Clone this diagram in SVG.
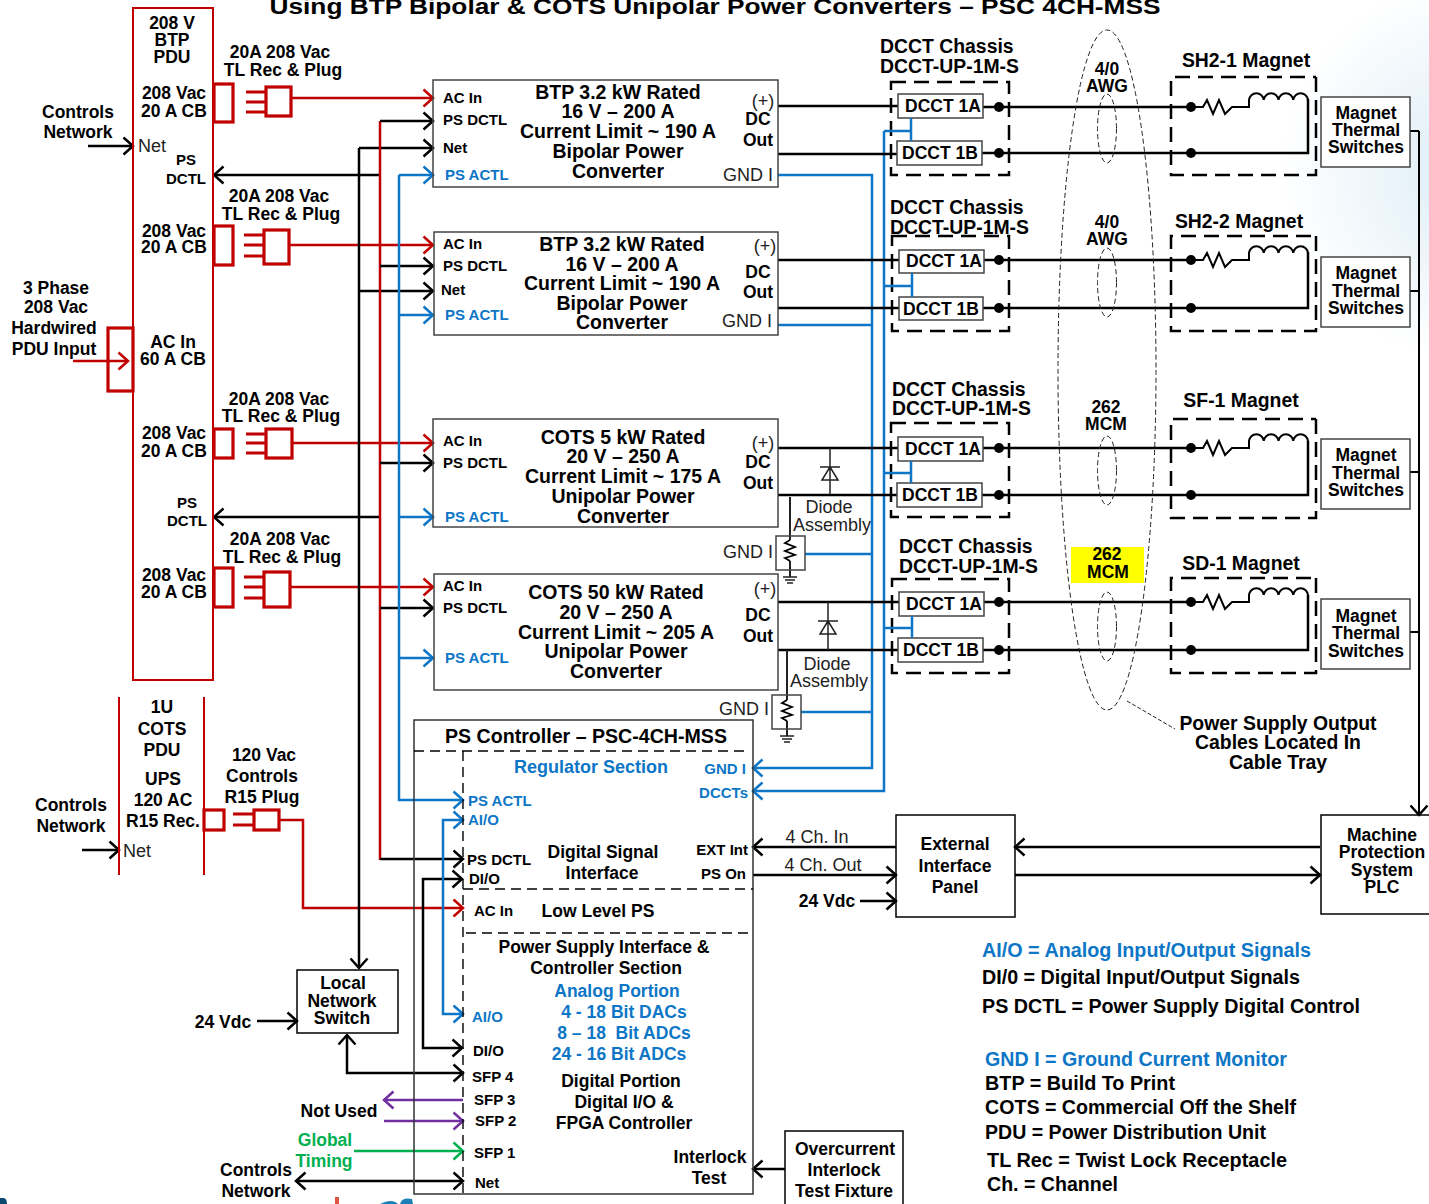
<svg xmlns="http://www.w3.org/2000/svg" width="1429" height="1204" viewBox="0 0 1429 1204">
<style>
text{font-family:"Liberation Sans",Arial,sans-serif;font-weight:700;font-size:17.5px;fill:#000}
.c{text-anchor:middle}.e{text-anchor:end}
.m{font-size:19.5px}.s{font-size:15px}.r{font-weight:400;font-size:18px;fill:#222}
.l{font-size:19.5px}.u{fill:#0d76c6}.g{fill:#00b050}
.h{font-size:19.4px}
.ln,.bx,.rd,.bl,.pu,.gr,.dash,.thin,.rbx{fill:none}
.ln{stroke:#000;stroke-width:2.5}
.rd{stroke:#c00000;stroke-width:2.5}
.rbx{stroke:#c00000;stroke-width:3.2}
.bl{stroke:#0d76c6;stroke-width:2.5}
.pu{stroke:#7030a0;stroke-width:2.5}
.gr{stroke:#00b050;stroke-width:2.5}
.bx{stroke:#444;stroke-width:1.5;fill:#fff}
.nb{stroke:#444;stroke-width:1.5;fill:none}
.dash{stroke:#000;stroke-width:2.5;stroke-dasharray:15 8}
.dt{fill:none;stroke:#000;stroke-width:1.4;stroke-dasharray:10 6}
.thin{stroke:#222;stroke-width:1.5}
.el{fill:none;stroke:#222;stroke-width:1;stroke-dasharray:5 3}
</style>
<defs>
<radialGradient id="bg" gradientUnits="userSpaceOnUse" cx="1470" cy="170" r="190"><stop offset="0" stop-color="#dcecf6"/><stop offset="1" stop-color="#fff"/></radialGradient>
<marker id="ak" markerUnits="userSpaceOnUse" viewBox="-12 -10 14 20" refX="0" refY="0" markerWidth="14" markerHeight="20" orient="auto-start-reverse"><path d="M-9.5,-8.5L0,0L-9.5,8.5" fill="none" stroke="#000" stroke-width="2.5"/></marker>
<marker id="ar" markerUnits="userSpaceOnUse" viewBox="-12 -10 14 20" refX="0" refY="0" markerWidth="14" markerHeight="20" orient="auto-start-reverse"><path d="M-9.5,-8.5L0,0L-9.5,8.5" fill="none" stroke="#c00000" stroke-width="2.5"/></marker>
<marker id="ab" markerUnits="userSpaceOnUse" viewBox="-12 -10 14 20" refX="0" refY="0" markerWidth="14" markerHeight="20" orient="auto-start-reverse"><path d="M-9.5,-8.5L0,0L-9.5,8.5" fill="none" stroke="#0d76c6" stroke-width="2.5"/></marker>
<marker id="ap" markerUnits="userSpaceOnUse" viewBox="-12 -10 14 20" refX="0" refY="0" markerWidth="14" markerHeight="20" orient="auto-start-reverse"><path d="M-9.5,-8.5L0,0L-9.5,8.5" fill="none" stroke="#7030a0" stroke-width="2.5"/></marker>
<marker id="ag" markerUnits="userSpaceOnUse" viewBox="-12 -10 14 20" refX="0" refY="0" markerWidth="14" markerHeight="20" orient="auto-start-reverse"><path d="M-9.5,-8.5L0,0L-9.5,8.5" fill="none" stroke="#00b050" stroke-width="2.5"/></marker>
<g id="load"><path class="ln" style="stroke-width:2" d="M1191,0H1203L1207,-7L1213,7L1219,-7L1225,7L1232,0H1249V-7a7.4,7.4 0 0 1 14.75,0a7.4,7.4 0 0 1 14.75,0a7.4,7.4 0 0 1 14.75,0a7.4,7.4 0 0 1 14.75,0"/></g>
<g id="ground"><path class="thin" d="M-7,0H7M-5,3H5M-3,6H3"/></g>
<path id="zig" d="M0,0L-5,3L5,7L-5,11L5,15L-5,18L0,21" fill="none" stroke="#000" stroke-width="1.8"/>
</defs>
<rect width="1429" height="1204" fill="#fff"/>
<rect x="1240" y="0" width="189" height="400" fill="url(#bg)"/>
<text class="c" x="715" y="14" style="font-size:22px" textLength="891" lengthAdjust="spacingAndGlyphs">Using BTP Bipolar &amp; COTS Unipolar Power Converters – PSC 4CH-MSS</text>

<g id="connectors">
<g class="rd">
<path d="M291,98H433" marker-end="url(#ar)"/>
<path d="M289,245H433" marker-end="url(#ar)"/>
<path d="M291,443H433" marker-end="url(#ar)"/>
<path d="M289,587H433" marker-end="url(#ar)"/>
<path d="M73,361H128" marker-end="url(#ar)"/>
<path d="M279,820H303V908H463" marker-end="url(#ar)"/>
</g>
<g class="ln">
<path d="M359,148V968" marker-end="url(#ak)"/>
<path d="M359,148H433" marker-end="url(#ak)"/>
<path d="M359,291H433" marker-end="url(#ak)"/>
<path d="M380,175H214" marker-end="url(#ak)"/>
<path d="M380,517H214" marker-end="url(#ak)"/>
<path d="M88,146H133" marker-end="url(#ak)"/>
<path d="M82,850H119" marker-end="url(#ak)"/>
</g>
<path class="rd" d="M380,121V860"/>
<g class="ln">
<path d="M380,121H433" marker-end="url(#ak)"/>
<path d="M380,266H433" marker-end="url(#ak)"/>
<path d="M380,463H433" marker-end="url(#ak)"/>
<path d="M380,608H433" marker-end="url(#ak)"/>
<path d="M380,859H463" marker-end="url(#ak)"/>
<path d="M462,879H423V1048H462" marker-start="url(#ak)" marker-end="url(#ak)"/>
<path d="M257,1021H297" marker-end="url(#ak)"/>
<path d="M347,1035V1073H463" marker-start="url(#ak)" marker-end="url(#ak)"/>
<path d="M296,1181H463" marker-start="url(#ak)" marker-end="url(#ak)"/>
<path d="M896,847H753" marker-end="url(#ak)"/>
<path d="M753,875H896" marker-end="url(#ak)"/>
<path d="M860,901H896" marker-end="url(#ak)"/>
<path d="M1320,847H1015" marker-end="url(#ak)"/>
<path d="M1015,875H1320" marker-end="url(#ak)"/>
<path d="M1419,131V815" marker-end="url(#ak)" style="stroke-width:2"/>
<path d="M785,1169H753" marker-end="url(#ak)"/>
</g>
<g class="bl">
<path d="M399,175V800H463" marker-end="url(#ab)"/>
<path d="M399,175H433" marker-end="url(#ab)"/>
<path d="M399,315H433" marker-end="url(#ab)"/>
<path d="M399,517H433" marker-end="url(#ab)"/>
<path d="M399,658H433" marker-end="url(#ab)"/>
<path d="M463,820H443V1014H463" marker-start="url(#ab)" marker-end="url(#ab)"/>
<path d="M778,175H872V768H753" marker-end="url(#ab)"/>
<path d="M778,325H872M805,554H872M801,712H872"/>
<path d="M884,131V791H753" marker-end="url(#ab)"/>
</g>
<path class="pu" d="M463,1100H384" marker-end="url(#ap)"/>
<path class="pu" d="M384,1121H463" marker-end="url(#ap)"/>
<path class="gr" d="M354,1151H463" marker-end="url(#ag)"/>
<g class="ln">
<path d="M778,106H898M778,154H897M983,107H1191M982,153H1308V99"/>
<path d="M778,260H899M778,308H899M984,260H1191M983,308H1308V252"/>
<path d="M778,448H898M778,495H897M983,448H1191M982,495H1308V441"/>
<path d="M778,602H899M778,650H898M984,602H1191M983,650H1308V595"/>
<path d="M1410,131H1419M1410,291H1419M1410,472H1419M1410,632H1419" style="stroke-width:2"/>
</g>
<path d="M1127,701L1175,729" fill="none" stroke="#222" stroke-width="1" stroke-dasharray="4 2"/>
</g>

<g id="pdu-btp">
<rect x="133" y="8" width="80" height="672" fill="none" stroke="#c00000" stroke-width="2"/>
<g class="rbx">
<rect x="214" y="84" width="19" height="38"/><rect x="266" y="87" width="25" height="29"/><path d="M246,92H266M246,102H266M246,112H266"/>
<rect x="214" y="226" width="19" height="39"/><rect x="264" y="230" width="25" height="34"/><path d="M244,235H264M244,245H264M244,256H264"/>
<rect x="214" y="429" width="19" height="29"/><rect x="266" y="429" width="26" height="29"/><path d="M246,434H266M246,443H266M246,453H266"/>
<rect x="214" y="568" width="19" height="39"/><rect x="264" y="572" width="26" height="35"/><path d="M244,577H264M244,587H264M244,598H264"/>
<rect x="108" y="328" width="25" height="63"/>
</g>
<text class="c" x="172" y="29">208 V</text><text class="c" x="172" y="46">BTP</text><text class="c" x="172" y="63">PDU</text>
<text class="c" x="280" y="58">20A 208 Vac</text><text class="c" x="283" y="76">TL Rec &amp; Plug</text>
<text class="c" x="174" y="99">208 Vac</text><text class="c" x="174" y="117">20 A CB</text>
<text class="r" x="138" y="152">Net</text>
<text class="c s" x="186" y="165">PS</text><text class="c s" x="186" y="184">DCTL</text>
<text class="c" x="279" y="202">20A 208 Vac</text><text class="c" x="281" y="220">TL Rec &amp; Plug</text>
<text class="c" x="174" y="237">208 Vac</text><text class="c" x="174" y="253">20 A CB</text>
<text class="c" x="173" y="348">AC In</text><text class="c" x="173" y="365">60 A CB</text>
<text class="c" x="279" y="405">20A 208 Vac</text><text class="c" x="281" y="422">TL Rec &amp; Plug</text>
<text class="c" x="174" y="439">208 Vac</text><text class="c" x="174" y="457">20 A CB</text>
<text class="c s" x="187" y="508">PS</text><text class="c s" x="187" y="526">DCTL</text>
<text class="c" x="280" y="545">20A 208 Vac</text><text class="c" x="282" y="563">TL Rec &amp; Plug</text>
<text class="c" x="174" y="581">208 Vac</text><text class="c" x="174" y="598">20 A CB</text>
</g>
<g id="pdu-labels">
<text class="c" x="78" y="118">Controls</text><text class="c" x="78" y="138">Network</text>
<text class="c" x="56" y="294">3 Phase</text><text class="c" x="56" y="313">208 Vac</text><text class="c" x="54" y="334">Hardwired</text><text class="c" x="54" y="355">PDU Input</text>
</g>

<g id="pdu-cots">
<path d="M119,697V875M204,697V875" stroke="#c00000" stroke-width="2" fill="none"/>
<g class="rbx"><rect x="204" y="810" width="20" height="20"/><rect x="254" y="810" width="25" height="20"/><path d="M233,814H254M233,825H254"/></g>
<text class="c" x="162" y="713">1U</text><text class="c" x="162" y="735">COTS</text><text class="c" x="162" y="756">PDU</text>
<text class="c" x="163" y="785">UPS</text><text class="c" x="163" y="806">120 AC</text><text class="c" x="163" y="827">R15 Rec.</text>
<text class="c" x="264" y="761">120 Vac</text><text class="c" x="262" y="782">Controls</text><text class="c" x="262" y="803">R15 Plug</text>
<text class="c" x="71" y="811">Controls</text><text class="c" x="71" y="832">Network</text>
<text class="r" x="123" y="857">Net</text>
</g>

<g id="converter-1">
<rect class="nb" x="433" y="80" width="345" height="107"/>
<text class="c m" x="618" y="99">BTP 3.2 kW Rated</text><text class="c m" x="618" y="118">16 V – 200 A</text><text class="c m" x="618" y="138">Current Limit ~ 190 A</text><text class="c m" x="618" y="158">Bipolar Power</text><text class="c m" x="618" y="178">Converter</text>
<text class="s" x="443" y="103">AC In</text><text class="s" x="443" y="125">PS DCTL</text><text class="s" x="443" y="153">Net</text><text class="s u" x="445" y="180">PS ACTL</text>
<text class="r c" x="763" y="107">(+)</text><text class="c" x="758" y="125">DC</text><text class="c" x="758" y="146">Out</text><text class="r e" x="773" y="181">GND I</text>
</g>
<g id="converter-2">
<rect class="nb" x="434" y="232" width="344" height="103"/>
<text class="c m" x="622" y="251">BTP 3.2 kW Rated</text><text class="c m" x="622" y="271">16 V – 200 A</text><text class="c m" x="622" y="290">Current Limit ~ 190 A</text><text class="c m" x="622" y="310">Bipolar Power</text><text class="c m" x="622" y="329">Converter</text>
<text class="s" x="443" y="249">AC In</text><text class="s" x="443" y="271">PS DCTL</text><text class="s" x="441" y="295">Net</text><text class="s u" x="445" y="320">PS ACTL</text>
<text class="r c" x="765" y="252">(+)</text><text class="c" x="758" y="278">DC</text><text class="c" x="758" y="298">Out</text><text class="r e" x="772" y="327">GND I</text>
</g>
<g id="converter-3">
<rect class="nb" x="433" y="419" width="345" height="108"/>
<text class="c m" x="623" y="444">COTS 5 kW Rated</text><text class="c m" x="623" y="463">20 V – 250 A</text><text class="c m" x="623" y="483">Current Limit ~ 175 A</text><text class="c m" x="623" y="503">Unipolar Power</text><text class="c m" x="623" y="523">Converter</text>
<text class="s" x="443" y="446">AC In</text><text class="s" x="443" y="468">PS DCTL</text><text class="s u" x="445" y="522">PS ACTL</text>
<text class="r c" x="763" y="449">(+)</text><text class="c" x="758" y="468">DC</text><text class="c" x="758" y="489">Out</text><text class="r e" x="773" y="558">GND I</text>
<g id="diode-1"><path class="thin" d="M830,448V495M820,467H840M830,467L822,480H838Z" fill="#fff"/><text class="r c" x="829" y="513">Diode</text><text class="r c" x="832" y="531">Assembly</text></g>
<g id="gnd-1"><path class="thin" style="stroke-width:2" d="M790,497V540M790,561V577"/><rect class="nb" x="776" y="536" width="29" height="34"/><use href="#zig" x="790" y="540"/><use href="#ground" x="790" y="577"/></g>
</g>
<g id="converter-4">
<rect class="nb" x="434" y="574" width="344" height="116"/>
<text class="c m" x="616" y="599">COTS 50 kW Rated</text><text class="c m" x="616" y="619">20 V – 250 A</text><text class="c m" x="616" y="639">Current Limit ~ 205 A</text><text class="c m" x="616" y="658">Unipolar Power</text><text class="c m" x="616" y="678">Converter</text>
<text class="s" x="443" y="591">AC In</text><text class="s" x="443" y="613">PS DCTL</text><text class="s u" x="445" y="663">PS ACTL</text>
<text class="r c" x="765" y="595">(+)</text><text class="c" x="758" y="621">DC</text><text class="c" x="758" y="642">Out</text><text class="r e" x="769" y="715">GND I</text>
<g id="diode-2"><path class="thin" d="M828,602V650M818,621H838M828,621L820,634H836Z" fill="#fff"/><text class="r c" x="827" y="670">Diode</text><text class="r c" x="829" y="687">Assembly</text></g>
<g id="gnd-2"><path class="thin" style="stroke-width:2" d="M787,650V700M787,721V736"/><rect class="nb" x="772" y="695" width="29" height="34"/><use href="#zig" x="787" y="700"/><use href="#ground" x="787" y="736"/></g>
</g>

<g id="chassis-1">
<rect class="dash" x="891" y="82" width="118" height="93"/>
<rect class="bx" x="898" y="94" width="85" height="24"/><rect class="bx" x="897" y="141" width="85" height="24"/>
<text x="905" y="112">DCCT 1A</text><text x="902" y="159">DCCT 1B</text>
<circle cx="999" cy="107" r="5"/><circle cx="999" cy="153" r="5"/>
<text class="h" x="880" y="53">DCCT Chassis</text><text class="h" x="880" y="73">DCCT-UP-1M-S</text>
<path class="bl" d="M884,131H911M911,118V141"/>
</g>
<g id="chassis-2">
<rect class="dash" x="892" y="236" width="117" height="95"/>
<rect class="bx" x="899" y="250" width="85" height="23"/><rect class="bx" x="899" y="297" width="84" height="23"/>
<text x="906" y="267">DCCT 1A</text><text x="903" y="315">DCCT 1B</text>
<circle cx="999" cy="260" r="5"/><circle cx="999" cy="308" r="5"/>
<text class="h" x="890" y="214">DCCT Chassis</text><text class="h" x="890" y="234">DCCT-UP-1M-S</text>
<path class="bl" d="M884,286H912M912,273V297"/>
</g>
<g id="chassis-3">
<rect class="dash" x="891" y="423" width="118" height="94"/>
<rect class="bx" x="898" y="437" width="85" height="24"/><rect class="bx" x="897" y="483" width="85" height="24"/>
<text x="905" y="455">DCCT 1A</text><text x="902" y="501">DCCT 1B</text>
<circle cx="999" cy="448" r="5"/><circle cx="999" cy="495" r="5"/>
<text class="h" x="892" y="396">DCCT Chassis</text><text class="h" x="892" y="415">DCCT-UP-1M-S</text>
<path class="bl" d="M884,473H911M911,461V483"/>
</g>
<g id="chassis-4">
<rect class="dash" x="892" y="579" width="117" height="94"/>
<rect class="bx" x="899" y="592" width="85" height="24"/><rect class="bx" x="898" y="638" width="85" height="24"/>
<text x="906" y="610">DCCT 1A</text><text x="903" y="656">DCCT 1B</text>
<circle cx="999" cy="602" r="5"/><circle cx="999" cy="650" r="5"/>
<text class="h" x="899" y="553">DCCT Chassis</text><text class="h" x="899" y="573">DCCT-UP-1M-S</text>
<path class="bl" d="M884,628H912M912,616V638"/>
</g>

<g id="cable-tray">
<ellipse class="el" cx="1107" cy="370" rx="49" ry="340"/>
<ellipse class="el" cx="1107" cy="128.500" rx="9.500" ry="34.500"/>
<ellipse class="el" cx="1107" cy="282.500" rx="9.500" ry="34.500"/>
<ellipse class="el" cx="1107" cy="470.500" rx="9.500" ry="34.500"/>
<ellipse class="el" cx="1107" cy="626.500" rx="9.500" ry="34.500"/>
<text class="c" x="1107" y="75">4/0</text><text class="c" x="1107" y="92">AWG</text>
<text class="c" x="1107" y="228">4/0</text><text class="c" x="1107" y="245">AWG</text>
<text class="c" x="1106" y="413">262</text><text class="c" x="1106" y="430">MCM</text>
<rect x="1071" y="547" width="73" height="36" fill="#ffff00"/>
<text class="c" x="1107" y="560">262</text><text class="c" x="1108" y="578">MCM</text>
<text class="c h" x="1278" y="730">Power Supply Output</text><text class="c h" x="1278" y="749">Cables Located In</text><text class="c h" x="1278" y="769">Cable Tray</text>
</g>

<g id="magnet-sh2-1">
<path class="dash" d="M1316,77V175H1171V77H1316"/><use href="#load" y="107"/>
<circle cx="1191" cy="107" r="5"/><circle cx="1191" cy="153" r="5"/>
<text class="c h" x="1246" y="67">SH2-1 Magnet</text>
<rect class="bx" x="1321" y="97" width="89" height="70"/><text class="c" x="1366" y="119">Magnet</text><text class="c" x="1366" y="136">Thermal</text><text class="c" x="1366" y="153">Switches</text>
</g>
<g id="magnet-sh2-2">
<path class="dash" d="M1316,236V331H1171V236H1316"/><use href="#load" y="260"/>
<circle cx="1191" cy="260" r="5"/><circle cx="1191" cy="308" r="5"/>
<text class="c h" x="1239" y="228">SH2-2 Magnet</text>
<rect class="bx" x="1321" y="257" width="89" height="70"/><text class="c" x="1366" y="279">Magnet</text><text class="c" x="1366" y="297">Thermal</text><text class="c" x="1366" y="314">Switches</text>
</g>
<g id="magnet-sf-1">
<path class="dash" d="M1316,419V518H1171V419H1316"/><use href="#load" y="448"/>
<circle cx="1191" cy="448" r="5"/><circle cx="1191" cy="495" r="5"/>
<text class="c h" x="1241" y="407">SF-1 Magnet</text>
<rect class="bx" x="1321" y="439" width="89" height="70"/><text class="c" x="1366" y="461">Magnet</text><text class="c" x="1366" y="479">Thermal</text><text class="c" x="1366" y="496">Switches</text>
</g>
<g id="magnet-sd-1">
<path class="dash" d="M1316,578V673H1171V578H1316"/><use href="#load" y="602"/>
<circle cx="1191" cy="602" r="5"/><circle cx="1191" cy="650" r="5"/>
<text class="c h" x="1241" y="570">SD-1 Magnet</text>
<rect class="bx" x="1321" y="599" width="89" height="70"/><text class="c" x="1366" y="622">Magnet</text><text class="c" x="1366" y="639">Thermal</text><text class="c" x="1366" y="657">Switches</text>
</g>

<g id="ps-controller">
<path d="M414,1194V720H753V1194Z" fill="none" stroke="#333" stroke-width="1.5"/>
<path class="dt" d="M414,751H750M463,751V1194M463,889H753M466,933H753"/>
<text class="c" x="586" y="743" style="font-size:19.6px">PS Controller – PSC-4CH-MSS</text>
<text class="c u" x="591" y="773" style="font-size:18px">Regulator Section</text>
<text class="e s u" x="746" y="774">GND I</text><text class="e s u" x="748" y="798">DCCTs</text>
<text class="s u" x="468" y="806">PS ACTL</text><text class="s u" x="468" y="825">AI/O</text>
<text class="s" x="467" y="865">PS DCTL</text><text class="s" x="469" y="884">DI/O</text>
<text class="c" x="603" y="858">Digital Signal</text><text class="c" x="602" y="879">Interface</text>
<text class="e s" x="748" y="855">EXT Int</text><text class="e s" x="746" y="879">PS On</text>
<text class="s" x="474" y="916">AC In</text><text class="c" x="598" y="917">Low Level PS</text>
<text class="c" x="604" y="953">Power Supply Interface &amp;</text><text class="c" x="606" y="974">Controller Section</text>
<text class="c u" x="617" y="997">Analog Portion</text><text class="c u" x="624" y="1018">4 - 18 Bit DACs</text><text class="c u" x="624" y="1039">8 – 18 &#160;Bit ADCs</text><text class="c u" x="619" y="1060">24 - 16 Bit ADCs</text>
<text class="s u" x="472" y="1022">AI/O</text><text class="s" x="473" y="1056">DI/O</text>
<text class="s" x="472" y="1082">SFP 4</text><text class="s" x="474" y="1105">SFP 3</text><text class="s" x="475" y="1126">SFP 2</text><text class="s" x="474" y="1158">SFP 1</text><text class="s" x="475" y="1188">Net</text>
<text class="c" x="621" y="1087">Digital Portion</text><text class="c" x="624" y="1108">Digital I/O &amp;</text><text class="c" x="624" y="1129">FPGA Controller</text>
<text class="c" x="710" y="1163">Interlock</text><text class="c" x="709" y="1184">Test</text>
</g>
<g id="external-panel">
<rect class="nb" style="stroke:#000" x="896" y="815" width="119" height="102"/>
<text class="c" x="955" y="850">External</text><text class="c" x="955" y="872">Interface</text><text class="c" x="955" y="893">Panel</text>
<text class="r c" x="817" y="843">4 Ch. In</text><text class="r c" x="823" y="871">4 Ch. Out</text><text class="c" x="827" y="907">24 Vdc</text>
</g>
<g id="mps-plc">
<rect class="nb" style="stroke:#000" x="1321" y="815" width="120" height="99"/>
<text class="c" x="1382" y="841">Machine</text><text class="c" x="1382" y="858">Protection</text><text class="c" x="1382" y="876">System</text><text class="c" x="1382" y="893">PLC</text>
</g>
<g id="local-switch">
<rect class="nb" style="stroke:#000" x="297" y="970" width="101" height="63"/>
<text class="c" x="343" y="989">Local</text><text class="c" x="342" y="1007">Network</text><text class="c" x="342" y="1024">Switch</text>
<text class="c" x="223" y="1028">24 Vdc</text>
</g>
<g id="bottom-left-labels">
<text class="c" x="339" y="1117">Not Used</text>
<text class="c g" x="325" y="1146">Global</text><text class="c g" x="324" y="1167">Timing</text>
<text class="c" x="256" y="1176">Controls</text><text class="c" x="256" y="1197">Network</text>
</g>
<g id="overcurrent">
<rect class="nb" style="stroke:#000" x="785" y="1131" width="118" height="80"/>
<text class="c" x="845" y="1155">Overcurrent</text><text class="c" x="844" y="1176">Interlock</text><text class="c" x="844" y="1197">Test Fixture</text>
</g>
<g id="legend">
<text class="l u" x="982" y="957" textLength="329" lengthAdjust="spacingAndGlyphs">AI/O = Analog Input/Output Signals</text>
<text class="l" x="982" y="984" textLength="318" lengthAdjust="spacingAndGlyphs">DI/0 = Digital Input/Output Signals</text>
<text class="l" x="982" y="1013" textLength="378" lengthAdjust="spacingAndGlyphs">PS DCTL = Power Supply Digital Control</text>
<text class="l u" x="985" y="1066" textLength="302" lengthAdjust="spacingAndGlyphs">GND I = Ground Current Monitor</text>
<text class="l" x="985" y="1090" textLength="190" lengthAdjust="spacingAndGlyphs">BTP = Build To Print</text>
<text class="l" x="985" y="1114" textLength="311" lengthAdjust="spacingAndGlyphs">COTS = Commercial Off the Shelf</text>
<text class="l" x="985" y="1139" textLength="281" lengthAdjust="spacingAndGlyphs">PDU = Power Distribution Unit</text>
<text class="l" x="987" y="1167" textLength="300" lengthAdjust="spacingAndGlyphs">TL Rec = Twist Lock Receptacle</text>
<text class="l" x="987" y="1191" textLength="131" lengthAdjust="spacingAndGlyphs">Ch. = Channel</text>
</g>
<path d="M0,1204V1198H4Q7,1199 7,1204Z" fill="#0b4a6e"/>
<rect x="335" y="1197" width="4" height="7" fill="#e0553f"/>
<path d="M380,1204Q392,1198 398,1204ZM400,1204Q402,1197 412,1199L413,1204Z" fill="#1e80b8"/>
</svg>
